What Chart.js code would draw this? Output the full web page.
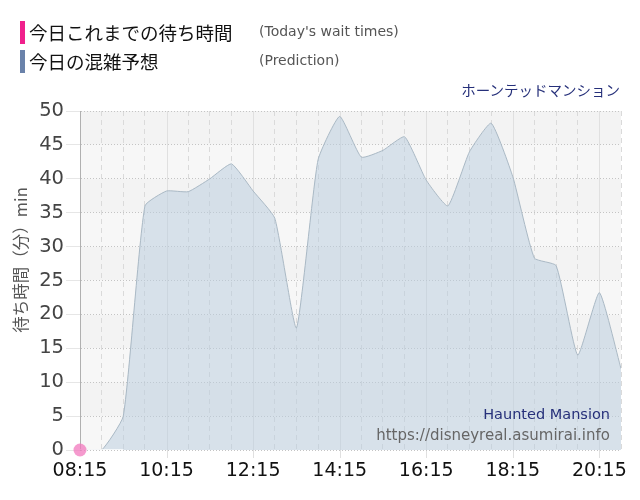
<!DOCTYPE html>
<html>
<head>
<meta charset="utf-8">
<script src="https://cdn.jsdelivr.net/npm/chart.js@4.4.1/dist/chart.umd.min.js"></script>
<style>
  body { margin: 0; background: #fff; }
  #wrap { position: relative; width: 640px; height: 500px; }
  canvas { position: absolute; left: 0; top: 0; }
  .leg { position: absolute; left: 20px; height: 22px; white-space: nowrap; }
  .leg .bar { position: absolute; left: 0; top: 0; width: 5px; height: 23px; }
  .leg .jp { position: absolute; left: 9px; top: -2px; font: 18.5px "Noto Sans CJK JP"; color: #111; }
  .leg .en { position: absolute; left: 239px; top: 2px; font: 14px "DejaVu Sans"; color: #555; }
  .ride { position: absolute; right: 20px; top: 79px; font: 14.5px "Noto Sans CJK JP"; color: #26307a; }
</style>
</head>
<body>
<div id="wrap">
  <canvas id="waitChart" width="640" height="500"></canvas>
  <div class="leg" style="top:21px"><div class="bar" style="background:#f0208c"></div><span class="jp">今日これまでの待ち時間</span><span class="en">(Today's wait times)</span></div>
  <div class="leg" style="top:50px"><div class="bar" style="background:#6a82aa"></div><span class="jp">今日の混雑予想</span><span class="en">(Prediction)</span></div>
  <div class="ride">ホーンテッドマンション</div>
</div>
<script>
// time slots (every 30 min) and predicted wait times
const times = ['08:15', '08:45', '09:15', '09:45', '10:15', '10:45', '11:15', '11:45', '12:15', '12:45',
    '13:15', '13:45', '14:15', '14:45', '15:15', '15:45', '16:15', '16:45', '17:15', '17:45',
    '18:15', '18:45', '19:15', '19:45', '20:15', '20:45'];
const prediction = [0, 0, 5, 36, 38.2, 38.1, 40, 42.2, 38.2, 34.2,
    18, 42.8, 49.2, 43.2, 44.2, 46.2, 39.8, 36, 44, 48.2,
    40.3, 28.3, 27.2, 14, 23.2, 12];
// today's actual wait times so far
const actualTimes = ['08:15'];
const actual = [0];
// closed segment line at zero
const closedTimes = ['08:15', '08:45', '09:15'];
const closed = [0, 0, 0];

const yTicks = [0, 5, 10, 15, 20, 25, 30, 35, 40, 45, 50];

function toMin(t) {
    const p = t.split(':');
    return parseInt(p[0]) * 60 + parseInt(p[1]);
}
function toLabel(m) {
    const h = Math.floor(m / 60), mm = m % 60;
    return String(h).padStart(2, '0') + ':' + String(mm).padStart(2, '0');
}
function pairs(ts, vs) {
    return ts.map((t, i) => ({ x: toMin(t), y: vs[i] }));
}

const xMin = toMin(times[0]);
const xMax = toMin(times[times.length - 1]);
function isMajor(v) { return (v - xMin) % 120 === 0; }

// background bands + solid major vertical lines
const backdrop = {
    id: 'backdrop',
    beforeDraw(chart) {
        const { ctx, chartArea: a, scales: { x, y } } = chart;
        ctx.save();
        for (let i = 0; i < yTicks.length - 1; i++) {
            const top = y.getPixelForValue(yTicks[yTicks.length - 1 - i]);
            const bot = y.getPixelForValue(yTicks[yTicks.length - 2 - i]);
            ctx.fillStyle = i % 2 === 0 ? '#f3f3f3' : '#f7f7f7';
            ctx.fillRect(a.left, top, a.right - a.left, bot - top);
        }
        ctx.strokeStyle = '#e0e0e0';
        ctx.lineWidth = 1;
        for (let m = xMin + 120; m < xMax; m += 120) {
            const px = Math.round(x.getPixelForValue(m)) + 0.5;
            ctx.beginPath();
            ctx.moveTo(px, a.top);
            ctx.lineTo(px, a.bottom + 8);
            ctx.stroke();
        }
        ctx.restore();
    },
    afterDraw(chart) {
        const { ctx, chartArea: a } = chart;
        ctx.save();
        // y axis title
        ctx.translate(21, 260);
        ctx.rotate(-Math.PI / 2);
        ctx.textAlign = 'center';
        ctx.textBaseline = 'middle';
        ctx.fillStyle = '#555';
        ctx.font = '16.5px "Noto Sans CJK JP"';
        ctx.fillText('待ち時間（分）min', 0, 0);
        ctx.restore();
        // credits inside plot
        ctx.save();
        ctx.textAlign = 'right';
        ctx.textBaseline = 'middle';
        ctx.font = '14.5px "DejaVu Sans"';
        ctx.fillStyle = '#26307a';
        ctx.fillText('Haunted Mansion', a.right - 11, 415);
        ctx.font = '15px "DejaVu Sans"';
        ctx.fillStyle = '#666';
        ctx.fillText('https://disneyreal.asumirai.info', a.right - 11, 436);
        ctx.restore();
    }
};

new Chart(document.getElementById('waitChart'), {
    type: 'line',
    data: {
        datasets: [{
            label: 'Today',
            data: pairs(actualTimes, actual),
            borderColor: '#f070b8',
            backgroundColor: 'rgba(242, 120, 190, 0.75)',
            pointRadius: 6.5,
            pointBorderWidth: 0,
            showLine: false,
            clip: false,
        }, {
            label: 'Closed',
            data: pairs(closedTimes, closed),
            borderColor: '#ffffff',
            borderWidth: 1.5,
            pointRadius: 0,
            fill: false,
        }, {
            label: 'Prediction',
            data: pairs(times, prediction),
            borderColor: '#aab9c5',
            borderWidth: 1,
            backgroundColor: 'rgba(186, 206, 222, 0.52)',
            fill: 'origin',
            tension: 0.15,
            pointRadius: 0,
        }]
    },
    options: {
        responsive: false,
        animation: false,
        layout: { padding: { top: 111, right: 19, bottom: 0, left: 0 } },
        plugins: { legend: { display: false }, tooltip: { enabled: false } },
        scales: {
            x: {
                type: 'linear',
                min: xMin,
                max: xMax,
                afterFit(s) { s.height = 50; },
                afterBuildTicks(s) {
                    s.ticks = [];
                    for (let m = xMin; m <= xMax; m += 30) s.ticks.push({ value: m });
                },
                ticks: {
                    autoSkip: false,
                    maxRotation: 0,
                    padding: 2,
                    color: '#111',
                    font: { family: 'DejaVu Sans', size: 19 },
                    callback: v => isMajor(v) && v < xMax ? toLabel(v) : ''
                },
                grid: {
                    color: c => (c.tick && isMajor(c.tick.value)) ? 'rgba(0,0,0,0)' : '#dadada',
                    tickColor: 'rgba(0,0,0,0)',
                    tickLength: 8,
                },
                border: { display: false, dash: [5, 4] }
            },
            y: {
                min: 0,
                max: 50,
                afterFit(s) { s.width = 80; },
                afterBuildTicks(s) { s.ticks = yTicks.map(v => ({ value: v })); },
                ticks: {
                    padding: 2,
                    color: '#444',
                    font: { family: 'DejaVu Sans', size: 19.5 },
                },
                grid: {
                    color: '#c4c4c4',
                    tickColor: '#e6e6e6',
                    tickLength: 14,
                    tickBorderDash: [],
                },
                border: { display: true, color: '#b0b0b0', dash: [1, 2] }
            }
        }
    },
    plugins: [backdrop]
});
</script>
</body>
</html>
